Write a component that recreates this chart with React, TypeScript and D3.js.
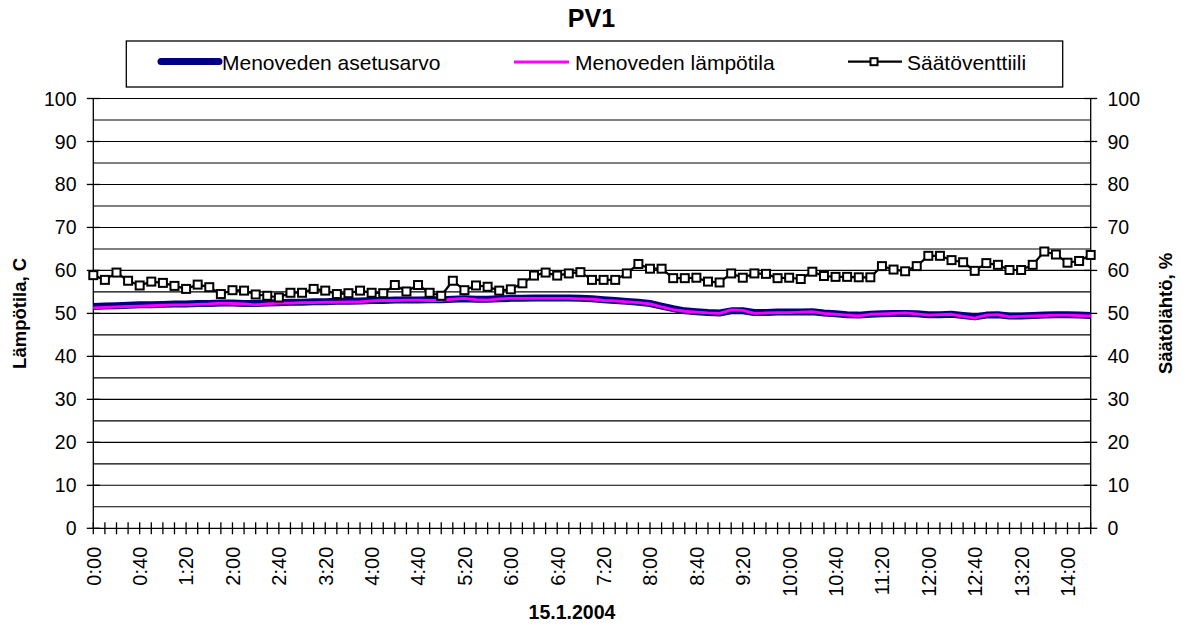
import React from 'react';
import * as d3 from 'd3';

const times: string[] = [
  '0:00','0:10','0:20','0:30','0:40','0:50',
  '1:00','1:10','1:20','1:30','1:40','1:50',
  '2:00','2:10','2:20','2:30','2:40','2:50',
  '3:00','3:10','3:20','3:30','3:40','3:50',
  '4:00','4:10','4:20','4:30','4:40','4:50',
  '5:00','5:10','5:20','5:30','5:40','5:50',
  '6:00','6:10','6:20','6:30','6:40','6:50',
  '7:00','7:10','7:20','7:30','7:40','7:50',
  '8:00','8:10','8:20','8:30','8:40','8:50',
  '9:00','9:10','9:20','9:30','9:40','9:50',
  '10:00','10:10','10:20','10:30','10:40','10:50',
  '11:00','11:10','11:20','11:30','11:40','11:50',
  '12:00','12:10','12:20','12:30','12:40','12:50',
  '13:00','13:10','13:20','13:30','13:40','13:50',
  '14:00','14:10','14:20',
];

const setpoint: number[] = [
  51.6, 51.7, 51.8, 51.9, 52.0, 52.0, 52.1, 52.2, 52.2, 52.3, 52.3,
  52.4, 52.4, 52.3, 52.3, 52.4, 52.5, 52.6, 52.6, 52.7, 52.7, 52.8, 52.8, 52.9,
  53.0, 53.0, 53.1, 53.1, 53.1, 53.2, 53.2, 53.3, 53.4, 53.3, 53.3, 53.4, 53.5, 53.5,
  53.6, 53.6, 53.6, 53.6, 53.5, 53.4, 53.2, 53.0, 52.8, 52.6, 52.3,
  51.7, 51.1, 50.6, 50.4, 50.2, 50.1, 50.6, 50.6, 50.2, 50.2, 50.3, 50.3, 50.3, 50.4,
  50.1, 49.9, 49.7, 49.6, 49.8, 49.9, 50.0, 50.0, 49.9, 49.7, 49.7, 49.8, 49.5, 49.2,
  49.6, 49.7, 49.4, 49.4, 49.5, 49.6, 49.7, 49.7, 49.6, 49.5,
];

const temperature: number[] = [
  51.3, 51.4, 51.5, 51.6, 51.7, 51.8, 51.9, 52.0, 52.0, 52.1, 52.2,
  52.4, 52.3, 52.2, 52.0, 52.2, 52.4, 52.4, 52.5, 52.5, 52.6, 52.6, 52.7, 52.7,
  52.9, 53.0, 53.0, 53.1, 53.1, 53.0, 53.0, 53.3, 53.5, 53.2, 53.1, 53.4, 53.5, 53.5,
  53.5, 53.5, 53.5, 53.5, 53.4, 53.3, 53.0, 52.9, 52.7, 52.5, 52.2,
  51.5, 50.9, 50.5, 50.3, 50.1, 50.0, 50.8, 50.7, 50.0, 50.1, 50.2, 50.2, 50.3, 50.4,
  50.0, 49.8, 49.6, 49.4, 49.8, 49.9, 50.0, 50.1, 49.9, 49.6, 49.7, 49.8, 49.3, 48.9,
  49.6, 49.7, 49.2, 49.3, 49.4, 49.5, 49.6, 49.6, 49.5, 49.4,
];

const valve: number[] = [
  58.9, 57.8, 59.5, 57.6, 56.5, 57.4, 57.1, 56.4, 55.7, 56.7, 56.1, 54.5, 55.4, 55.3, 54.4,
  54.1, 53.7, 54.8, 54.8, 55.7, 55.3, 54.5, 54.7, 55.3, 54.8, 54.7, 56.6, 55.1, 56.6, 54.8,
  54.1, 57.6, 55.4, 56.5, 56.2, 55.3, 55.6, 57.0, 58.8, 59.5, 58.8, 59.3, 59.6, 57.8, 57.8,
  57.8, 59.3, 61.5, 60.4, 60.4, 58.2, 58.2, 58.3, 57.4, 57.2, 59.3, 58.3, 59.3, 59.2, 58.2,
  58.3, 58.0, 59.7, 58.7, 58.5, 58.5, 58.4, 58.4, 61.0, 60.2, 59.8, 61.0, 63.4, 63.4, 62.4,
  61.9, 59.9, 61.7, 61.3, 60.1, 60.1, 61.3, 64.4, 63.7, 61.8, 62.2, 63.6,
];

const yTicks: number[] = [0, 10, 20, 30, 40, 50, 60, 70, 80, 90, 100];
const gridValues: number[] = [5, 10, 15, 20, 25, 30, 35, 40, 45, 50, 55, 60, 65, 70, 75, 80, 85, 90, 95, 100];

const FONT = "Arial, 'Liberation Sans', sans-serif";

export default function App() {
  const W = 1182;
  const H = 628;
  const left = 93.3;
  const right = 1090.7;
  const top = 98.5;
  const bottom = 528.3;

  const x = d3.scalePoint<number>().domain(times.map((_, i) => i)).range([left, right]);
  const y = d3.scaleLinear().domain([0, 100]).range([bottom, top]);

  const line = d3
    .line<number>()
    .x((_, i) => x(i) as number)
    .y((d) => y(d));

  const labelIdx = times.map((_, i) => i).filter((i) => i % 4 === 0);
  const ms = 8;

  return (
    <svg
      width={W}
      height={H}
      style={{ position: 'absolute', left: 0, top: 0, background: '#fff' }}
      fontFamily={FONT}
    >
      <rect x={0} y={0} width={W} height={H} fill="#fff" />
      {/* Title */}
      <text x={591.5} y={26.7} textAnchor="middle" fontWeight="bold" fontSize={25}>
        PV1
      </text>

      {/* Legend */}
      <rect x={126.3} y={41} width={936.4} height={46} fill="#fff" stroke="#000" strokeWidth={1.3} />
      <line x1={161} x2={219} y1={61.5} y2={61.5} stroke="#000080" strokeWidth={7} strokeLinecap="round" />
      <text x={222} y={70} fontSize={21}>Menoveden asetusarvo</text>
      <line x1={514} x2={569} y1={62} y2={62} stroke="#FF00FF" strokeWidth={3} />
      <text x={575} y={70} fontSize={21}>Menoveden lämpötila</text>
      <line x1={848} x2={902} y1={61.7} y2={61.7} stroke="#000" strokeWidth={2.2} />
      <rect x={870.5} y={58.2} width={7} height={7} fill="#fff" stroke="#000" strokeWidth={2} />
      <text x={907} y={70} fontSize={21}>Säätöventtiili</text>

      {/* Gridlines */}
      {gridValues.map((v) => (
        <line key={'g' + v} x1={left} x2={right} y1={y(v)} y2={y(v)} stroke="#000" strokeWidth={1.1} />
      ))}

      {/* Axes */}
      <line x1={left} x2={left} y1={top} y2={bottom} stroke="#000" strokeWidth={1.3} />
      <line x1={right} x2={right} y1={top} y2={bottom} stroke="#000" strokeWidth={1.3} />
      <line x1={left} x2={right} y1={bottom} y2={bottom} stroke="#000" strokeWidth={1.3} />

      {/* Y ticks and labels */}
      {yTicks.map((v) => (
        <g key={'yt' + v}>
          <line x1={left - 6.5} x2={left + 6.5} y1={y(v)} y2={y(v)} stroke="#000" strokeWidth={1.3} />
          <line x1={right - 6.5} x2={right + 6.5} y1={y(v)} y2={y(v)} stroke="#000" strokeWidth={1.3} />
          <text x={76.5} y={y(v)} dy="0.36em" textAnchor="end" fontSize={19.5}>
            {v}
          </text>
          <text x={1107.5} y={y(v)} dy="0.36em" textAnchor="start" fontSize={19.5}>
            {v}
          </text>
        </g>
      ))}

      {/* X ticks */}
      {times.map((_, i) => (
        <line
          key={'xt' + i}
          x1={x(i)}
          x2={x(i)}
          y1={bottom - 6}
          y2={bottom + 6}
          stroke="#000"
          strokeWidth={1.3}
        />
      ))}
      {labelIdx.map((i) => (
        <text
          key={'xl' + i}
          transform={`translate(${x(i)},546.7) rotate(-90)`}
          dy="0.37em"
          textAnchor="end"
          fontSize={20}
        >
          {times[i]}
        </text>
      ))}

      {/* Axis titles */}
      <text
        transform={`translate(26,313.4) rotate(-90)`}
        textAnchor="middle"
        fontWeight="bold"
        fontSize={18.5}
      >
        Lämpötila, C
      </text>
      <text
        transform={`translate(1172,313.4) rotate(-90)`}
        textAnchor="middle"
        fontWeight="bold"
        fontSize={18.5}
      >
        Säätölähtö, %
      </text>
      <text x={572} y={619} textAnchor="middle" fontWeight="bold" fontSize={19.5}>
        15.1.2004
      </text>

      {/* Series */}
      <path d={line(setpoint) || ''} fill="none" stroke="#000080" strokeWidth={7} strokeLinejoin="round" />
      <path d={line(temperature) || ''} fill="none" stroke="#FF00FF" strokeWidth={2.8} strokeLinejoin="round" />
      <path d={line(valve) || ''} fill="none" stroke="#000" strokeWidth={2.2} strokeLinejoin="round" />
      {valve.map((v, i) => (
        <rect
          key={'m' + i}
          x={(x(i) as number) - ms / 2}
          y={y(v) - ms / 2}
          width={ms}
          height={ms}
          fill="#fff"
          stroke="#000"
          strokeWidth={2}
        />
      ))}
    </svg>
  );
}
